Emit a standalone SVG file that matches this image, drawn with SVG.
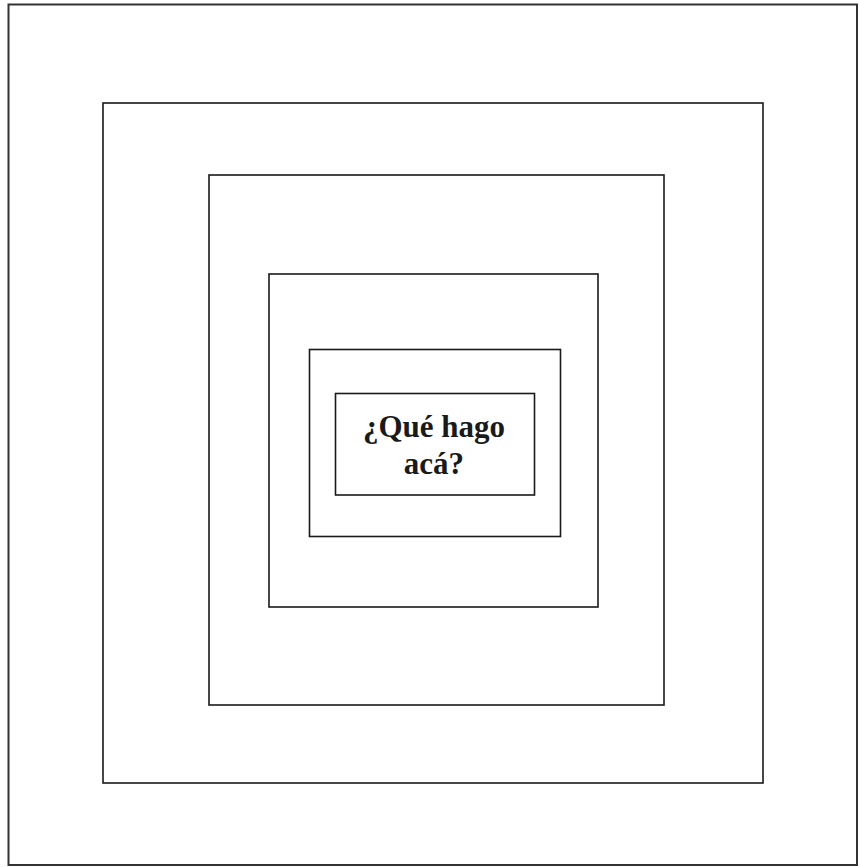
<svg xmlns="http://www.w3.org/2000/svg" width="859" height="867" viewBox="0 0 859 867">
<style>
.b{fill:none;stroke:#1a1a1a;stroke-width:1.6}
.o{fill:none;stroke:#333;stroke-width:2}
.t{font-family:"Liberation Serif","Times New Roman",serif;font-weight:bold;font-size:31px;fill:#1a1a1a;text-anchor:middle}
</style>
<rect width="859" height="867" fill="#fff"/>
<g id="frame"><rect class="o" x="8.5" y="4.5" width="848.5" height="860.5"/></g>
<g id="box1"><rect class="b" x="103" y="103" width="660" height="680"/></g>
<g id="box2"><rect class="b" x="209" y="175" width="455" height="530"/></g>
<g id="box3"><rect class="b" x="269" y="274" width="329" height="333"/></g>
<g id="box4"><rect class="b" x="309.5" y="349.5" width="251" height="187"/></g>
<g id="box5"><rect class="b" x="335.5" y="393.5" width="199" height="101.5"/>
<text class="t" x="434" y="437">¿Qué hago</text>
<text class="t" x="434" y="474">acá?</text></g>
<g id="connectors"/>
</svg>
